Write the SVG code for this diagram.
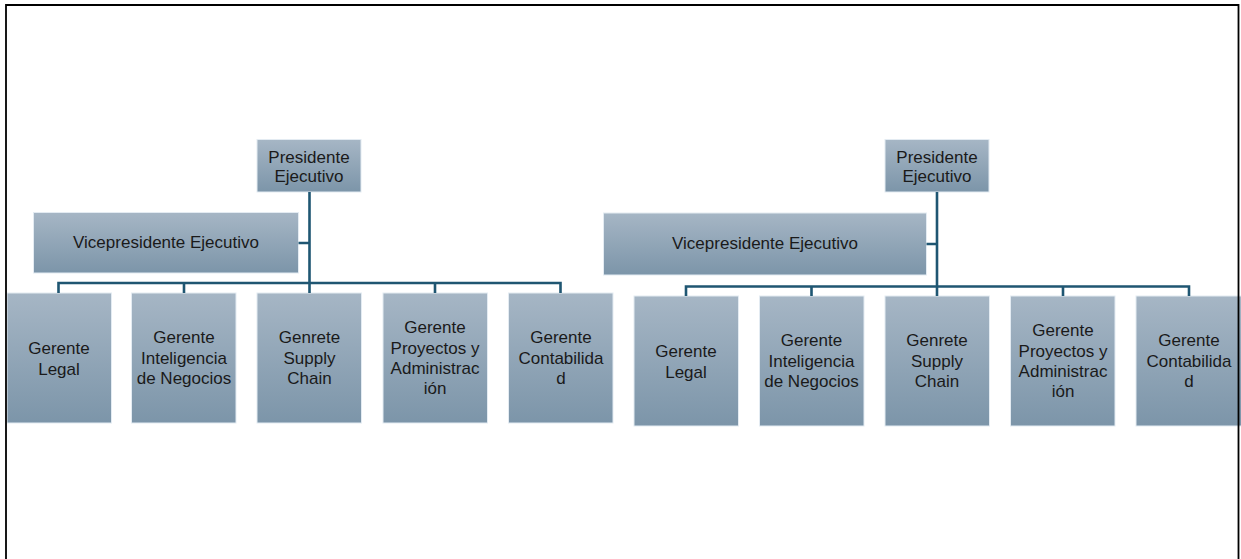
<svg xmlns="http://www.w3.org/2000/svg" width="1241" height="559" viewBox="0 0 1241 559">
  <defs>
    <linearGradient id="boxGrad" x1="0" y1="0" x2="0" y2="1">
      <stop offset="0" stop-color="#a6b6c5"/>
      <stop offset="1" stop-color="#7c95a9"/>
    </linearGradient>
  </defs>
  <style>
    .box { fill: url(#boxGrad); stroke: #e3ebf2; stroke-width: 1; }
    .lbl { font-family: "Liberation Sans", Arial, sans-serif; font-size: 17px; fill: #1a1a1a; text-anchor: middle; }
    .conn { fill: none; stroke: #1f5672; stroke-width: 2.6; }
    .frame { fill: none; stroke: #000; stroke-width: 1.8; }
  </style>
  <rect x="0" y="0" width="1241" height="559" fill="#ffffff"/>

  <!-- Left chart -->
  <g id="L-pres"><rect class="box" x="257" y="139.5" width="104" height="52.5"/>
    <text class="lbl" x="309" y="163">Presidente</text><text class="lbl" x="309" y="182">Ejecutivo</text></g>
  <g id="L-vice"><rect class="box" x="33.5" y="212.5" width="265" height="60.5"/>
    <text class="lbl" x="166" y="248">Vicepresidente Ejecutivo</text></g>
  <g id="L-legal"><rect class="box" x="7" y="293" width="104.5" height="130"/>
    <text class="lbl" x="59" y="354">Gerente</text><text class="lbl" x="59" y="374.5">Legal</text></g>
  <g id="L-intel"><rect class="box" x="131.5" y="293" width="104.5" height="130"/>
    <text class="lbl" x="184" y="343">Gerente</text><text class="lbl" x="184" y="364">Inteligencia</text><text class="lbl" x="184" y="384">de Negocios</text></g>
  <g id="L-supply"><rect class="box" x="257" y="293" width="104.5" height="130"/>
    <text class="lbl" x="309.5" y="343">Genrete</text><text class="lbl" x="309.5" y="364">Supply</text><text class="lbl" x="309.5" y="384">Chain</text></g>
  <g id="L-proy"><rect class="box" x="383" y="293" width="104.5" height="130"/>
    <text class="lbl" x="435" y="333">Gerente</text><text class="lbl" x="435" y="353.5">Proyectos y</text><text class="lbl" x="435" y="374">Administrac</text><text class="lbl" x="435" y="394">ión</text></g>
  <g id="L-conta"><rect class="box" x="508.5" y="293" width="104.5" height="130"/>
    <text class="lbl" x="561" y="343">Gerente</text><text class="lbl" x="561" y="364">Contabilida</text><text class="lbl" x="561" y="384">d</text></g>

  <!-- Right chart -->
  <g id="R-pres"><rect class="box" x="885" y="139.5" width="104" height="52.5"/>
    <text class="lbl" x="937" y="163">Presidente</text><text class="lbl" x="937" y="182">Ejecutivo</text></g>
  <g id="R-vice"><rect class="box" x="603.5" y="213" width="323" height="62"/>
    <text class="lbl" x="765" y="249">Vicepresidente Ejecutivo</text></g>
  <g id="R-legal"><rect class="box" x="634" y="296" width="104.5" height="130"/>
    <text class="lbl" x="686" y="357">Gerente</text><text class="lbl" x="686" y="377.5">Legal</text></g>
  <g id="R-intel"><rect class="box" x="759.5" y="296" width="104.5" height="130"/>
    <text class="lbl" x="811.5" y="346">Gerente</text><text class="lbl" x="811.5" y="367">Inteligencia</text><text class="lbl" x="811.5" y="387">de Negocios</text></g>
  <g id="R-supply"><rect class="box" x="885" y="296" width="104.5" height="130"/>
    <text class="lbl" x="937" y="346">Genrete</text><text class="lbl" x="937" y="367">Supply</text><text class="lbl" x="937" y="387">Chain</text></g>
  <g id="R-proy"><rect class="box" x="1010.5" y="296" width="104.5" height="130"/>
    <text class="lbl" x="1063" y="336">Gerente</text><text class="lbl" x="1063" y="356.5">Proyectos y</text><text class="lbl" x="1063" y="377">Administrac</text><text class="lbl" x="1063" y="397">ión</text></g>
  <g id="R-conta"><rect class="box" x="1136" y="296" width="106" height="130"/>
    <text class="lbl" x="1189" y="346">Gerente</text><text class="lbl" x="1189" y="367">Contabilida</text><text class="lbl" x="1189" y="387">d</text></g>

  <g id="connectors">
    <path class="conn" d="M309.5 192 V283 M298.5 243 H309.5 M58.5 293 V283 H560.5 V293 M184 283 V293 M309.5 283 V293 M435 283 V293"/>
    <path class="conn" d="M937 192 V286.5 M926.5 244 H937 M686 296 V286.5 H1189 V296 M811.5 286.5 V296 M937 286.5 V296 M1063 286.5 V296"/>
  </g>

  <g id="frame">
    <path class="frame" d="M6 559 V5 H1238.5 V559"/>
  </g>
</svg>
